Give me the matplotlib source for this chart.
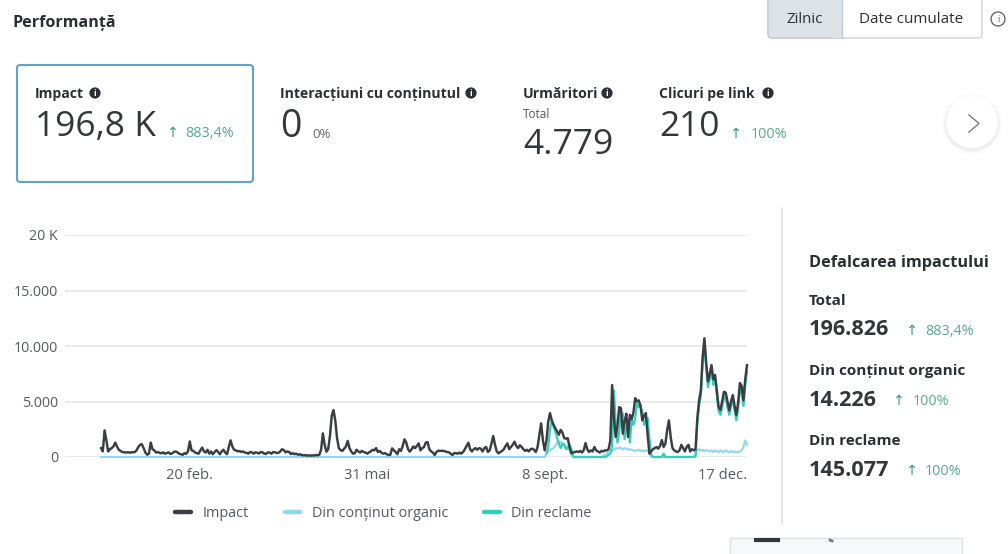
import numpy as np
import matplotlib
matplotlib.use("Agg")
import matplotlib.pyplot as plt
from matplotlib.patches import Circle, FancyBboxPatch, Rectangle
from matplotlib.lines import Line2D

plt.rcParams['font.family'] = ['Open Sans', 'DejaVu Sans']

impact = [
 800,500,2400,1500,500,700,800,950,1300,950,
 650,550,450,420,400,430,400,420,430,440,
 600,900,1100,1150,800,400,200,300,1300,700,
 600,400,450,380,330,420,300,350,420,280,
 320,450,500,430,300,250,200,350,280,500,
 1400,600,550,400,350,300,600,850,500,400,
 650,300,500,250,450,620,450,250,500,650,
 400,250,900,1500,950,650,600,500,550,450,
 500,400,380,300,450,420,300,420,380,320,
 450,420,300,280,420,400,300,450,420,360,
 380,500,700,620,420,500,450,260,350,250,
 300,200,250,180,150,170,130,150,120,150,
 130,180,150,200,650,2130,1100,480,700,1900,
 3700,4230,3300,1700,800,620,550,750,950,1450,
 800,500,300,350,650,500,400,550,450,400,
 300,420,500,650,600,800,450,550,400,300,
 350,250,180,200,780,600,450,250,700,550,
 1000,1590,1300,700,480,700,950,800,1000,1230,
 600,800,900,1300,1350,700,500,400,180,450,
 570,550,560,550,500,450,420,300,180,350,
 350,300,400,300,450,700,1000,1290,700,500,
 700,800,650,800,750,500,800,900,450,600,
 1200,1890,1100,500,330,450,550,700,1000,1230,
 700,900,1100,1380,1000,800,1050,900,700,550,
 650,500,700,750,650,450,900,2000,3030,1500,
 600,1500,3200,3950,3300,2900,2600,2300,2000,2450,
 2200,1700,1650,1700,900,350,400,450,500,450,
 550,400,600,1250,700,450,600,500,900,600,
 500,400,550,500,600,600,700,1500,6480,3500,
 1800,2800,4500,4400,2100,3200,3900,1800,3800,3400,
 4000,5300,5000,5100,4600,3300,3700,3950,2000,300,
 500,700,800,900,750,1000,1530,900,1200,2400,
 3300,1800,800,600,500,450,600,1100,800,500,
 900,1100,500,700,600,700,3500,5100,6000,9000,
 10700,8500,6800,7500,8280,7000,7400,6000,4500,4230,
 5000,5880,5800,5000,4200,5000,5580,4600,3780,4900,
 6660,6400,5100,7000,8280]

organic = [0]*251 + [
 300,500,600,700,800,1000,1260,1300,1380,1250,
 1100,1000,900,600,150,0,0,0,0,0,
 0,0,0,0,0,0,0,0,0,0,
 0,0,80,200,350,480,500,550,700,800,
 750,850,800,700,800,750,650,700,650,600,
 550,600,650,550,600,500,600,550,300,30,
 0,0,0,0,0,0,0,0,0,0,
 0,0,0,0,0,0,0,0,0,0,
 0,0,0,0,250,600,700,550,650,500,
 650,550,500,600,450,600,500,450,600,500,
 450,600,500,400,550,450,500,400,450,500,
 600,900,1500,1100]

ads = [
 300,900,2500,3300,2700,2300,1700,1200,800,1200,
 1100,700,800,1100,750,80,0,0,0,0,
 0,0,0,0,0,0,0,0,0,0,
 0,0,0,0,60,200,300,1000,6000,3000,
 1300,2300,4000,3900,1600,2700,3400,1300,3300,2900,
 3500,4800,4500,4600,4100,2900,3300,3500,1700,200,
 0,0,0,0,0,0,300,0,0,0,
 0,0,0,0,0,0,0,0,0,0,
 0,0,0,0,50,3000,4600,5500,8500,10200,8000,
 6300,7000,7800,6500,7000,5600,4100,3800,4500,5400,
 5300,4500,3800,4600,5100,4200,3300,4400,6100,5800,
 4600,6500,7700]

day_index = list(range(len(impact)))
x_ticks = [50, 150, 250, 350]
x_tick_labels = ['20 feb.', '31 mai', '8 sept.', '17 dec.']
y_ticks = [0, 5000, 10000, 15000, 20000]
y_tick_labels = ['0', '5.000', '10.000', '15.000', '20 K']
series_names = ['Impact', 'Din conținut organic', 'Din reclame']
C_IMP, C_ORG, C_ADS = '#3a3d42', '#8fd6f2', '#2fcfbb'
TXT = '#2b2f33'; GRN = '#5aa88f'; ARR = '#3f9c80'; GREY = '#555a60'

W, H = 1008, 554
fig = plt.figure(figsize=(W/100, H/100), dpi=100, facecolor='white')

# UI layer in pixel coordinates
ui = fig.add_axes([0, 0, 1, 1], zorder=0)
ui.set_xlim(0, W); ui.set_ylim(H, 0); ui.axis('off')

def t(x, y, s, size=9.5, weight='normal', color=TXT, ha='left', **kw):
    ui.text(x, y + size*0.16, s, fontsize=size, fontweight=weight, color=color, ha=ha, va='center', **kw)

def info(x, y, r=5.6):
    ui.add_patch(Circle((x, y), r, fc='#2b2f33', ec='none'))
    ui.text(x, y+0.3, 'i', fontsize=6.5, color='white', ha='center', va='center', fontweight='bold')

def trend(x_arrow, x_txt, y, s, size=10.4):
    ui.text(x_arrow, y, '↑', fontsize=size, color=ARR, ha='center', va='center', family='DejaVu Sans')
    t(x_txt, y-1, s, size=size, color=GRN)

t(13, 21, 'Performanță', size=11.6, weight='bold')

# toggle
ui.add_patch(FancyBboxPatch((982-214, 0-6), 214, 44, boxstyle='round,pad=0,rounding_size=4',
                            fc='white', ec='#cdd3d9', lw=1))
ui.add_patch(FancyBboxPatch((768, -6), 74, 44, boxstyle='round,pad=0,rounding_size=4',
                            fc='#dce2e8', ec='#c3cad1', lw=1))
ui.add_patch(Rectangle((832, -6), 10, 44, fc='#dce2e8', ec='none'))
ui.plot([842, 842], [0, 38], color='#c3cad1', lw=1)
t(805, 18, 'Zilnic', size=10.8, ha='center')
t(911, 18, 'Date cumulate', size=11, ha='center')
ui.add_patch(Circle((998, 19), 7, fc='white', ec='#555a60', lw=0.9))
ui.text(998, 19, 'i', fontsize=6.5, color='#555a60', ha='center', va='center')

# active card
ui.add_patch(FancyBboxPatch((17, 65), 236, 117, boxstyle='round,pad=0,rounding_size=3',
                            fc='white', ec='#63a3c9', lw=1.5))
t(35, 92, 'Impact', size=10.1, weight='bold'); info(95, 93)
t(35, 123, '196,8 K', size=25.5, color='#33373b')
trend(172, 185, 133, '883,4%')

t(280, 92, 'Interacțiuni cu conținutul', size=10.1, weight='bold'); info(471, 93)
t(280, 123, '0', size=27, color='#33373b')
t(312, 133, '0%', size=9.5, color='#666b70')

t(523, 92, 'Urmăritori', size=10.1, weight='bold'); info(607, 93)
t(523, 113, 'Total', size=8.5, color='#555a60')
t(523, 141, '4.779', size=25.5, color='#33373b')

t(659, 92, 'Clicuri pe link', size=10.1, weight='bold'); info(768, 93)
t(659, 123, '210', size=25.5, color='#33373b')
trend(735, 751, 134, '100%')

# next button with a soft shadow
for r, a in zip([30, 28.5, 27.5], [0.012, 0.02, 0.03]):
    ui.add_patch(Circle((972, 124), r, fc='#000000', ec='none', alpha=a))
ui.add_patch(Circle((972, 122), 26, fc='white', ec='none'))
ui.plot([969, 979, 969], [115, 123.5, 132], color='#777c82', lw=1.0)

# right panel
ui.plot([782, 782], [208, 524], color='#e2e4e6', lw=1.2)
t(809, 261, 'Defalcarea impactului', size=11.7, weight='bold')
t(809, 299, 'Total', size=11, weight='bold')
t(809, 327, '196.826', size=15.6, weight='bold', color='#33373b')
trend(911, 925, 331, '883,4%', size=10.4)
t(809, 369, 'Din conținut organic', size=11, weight='bold')
t(809, 398, '14.226', size=15.6, weight='bold', color='#33373b')
trend(898, 913, 401, '100%', size=10.4)
t(809, 439, 'Din reclame', size=11, weight='bold')
t(809, 468, '145.077', size=15.6, weight='bold', color='#33373b')
trend(911, 925, 471, '100%', size=10.4)

# cut-off element at the bottom
ui.add_patch(Rectangle((730, 538), 232, 20, fc='#f7f8fa', ec='#dfe2e5', lw=1))
ui.plot([756, 778], [540, 540], color='#33373b', lw=3)
ui.plot([830, 832], [540, 541], color='#777c82', lw=2)

# chart
x0, x1, y_top, y_zero = 65, 747, 235, 457
ax = fig.add_axes([x0/W, 1-y_zero/H, (x1-x0)/W, (y_zero-y_top)/H], zorder=1)
ax.patch.set_alpha(0)
ax.plot(day_index, impact, color=C_IMP, lw=1.75, zorder=4, solid_joinstyle='round', label=series_names[0])
ax.plot(day_index, organic, color=C_ORG, lw=1.5, zorder=2, solid_joinstyle='round', label=series_names[1])
ax.plot(day_index[251:], ads, color=C_ADS, lw=1.6, zorder=3, solid_joinstyle='round', label=series_names[2])
ax.set_xlim(-20.3, 364)
ax.set_ylim(0, 20000)
for s in ax.spines.values():
    s.set_visible(False)
ax.set_xticks(x_ticks, x_tick_labels)
ax.set_yticks(y_ticks, y_tick_labels)
ax.tick_params(axis='both', length=0, labelcolor=GREY)
ax.tick_params(axis='x', labelsize=10.6, pad=8)
ax.tick_params(axis='y', labelsize=10.3, pad=5)
ax.grid(axis='y', color='#e3e4e6', lw=1.1)
ax.set_axisbelow(True)
for ln in ax.lines:
    ln.set_clip_on(False)

hs = [Line2D([], [], color=c, lw=3.2, solid_capstyle='round') for c in (C_IMP, C_ORG, C_ADS)]
leg = fig.legend(hs, series_names, loc='center', bbox_to_anchor=(383.5/W, 1-513.5/H), ncol=3,
                 frameon=False, fontsize=10.4, handlelength=1.1, handletextpad=0.8,
                 columnspacing=2.45, labelcolor=GREY)

fig.savefig('out.png', dpi=100)
